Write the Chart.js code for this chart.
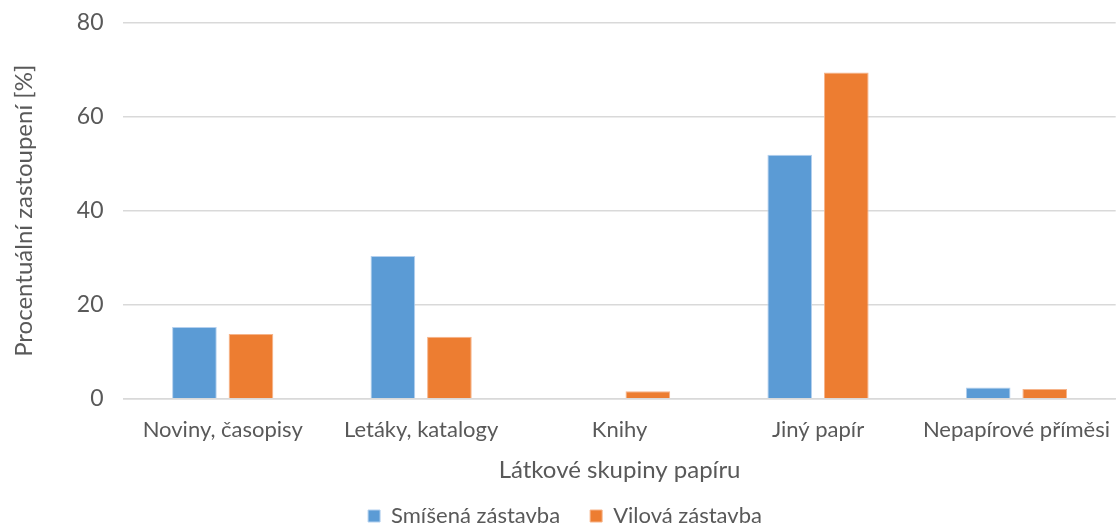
<!DOCTYPE html>
<html>
<head>
<meta charset="utf-8">
<script src="https://cdn.jsdelivr.net/npm/chart.js@4"></script>
<style>
  html, body { margin: 0; padding: 0; background: #fff; overflow: hidden; }
  #chart { display: block; margin-top: -11px; }
</style>
</head>
<body>
<canvas id="chart" width="1120" height="548"></canvas>
<script>
// Data
const categories = ["Noviny, časopisy", "Letáky, katalogy", "Knihy", "Jiný papír", "Nepapírové příměsi"];
const smisena = [15.3, 30.4, 0, 51.9, 2.4];
const vilova = [13.8, 13.2, 1.6, 69.4, 2.1];
const yTicks = [0, 20, 40, 60, 80];

const textColor = "#595959";
const fontFamily = "Lato, 'Open Sans', sans-serif";

new Chart(document.getElementById("chart"), {
  type: "bar",
  data: {
    labels: categories,
    datasets: [
      {
        label: "Smíšená zástavba",
        data: smisena,
        backgroundColor: "#5B9BD5",
        borderColor: "#b4d0ee",
        borderWidth: 1,
      },
      {
        label: "Vilová zástavba",
        data: vilova,
        backgroundColor: "#ED7D31",
        borderColor: "#f6b48a",
        borderWidth: 1,
      },
    ],
  },
  options: {
    responsive: false,
    animation: false,
    layout: { padding: { top: 0, right: 0, left: 10, bottom: 0 } },
    datasets: {
      bar: { categoryPercentage: 0.57, barPercentage: 0.79 },
    },
    plugins: {
      legend: {
        position: "bottom",
        labels: {
          color: textColor,
          font: { family: fontFamily, size: 22 },
          boxWidth: 12,
          boxHeight: 12,
          padding: 30,
        },
      },
      tooltip: { enabled: false },
    },
    scales: {
      x: {
        grid: { display: false },
        border: { color: "#d9d9d9", width: 1.5 },
        ticks: { color: textColor, font: { family: fontFamily, size: 22 }, padding: 10, maxRotation: 0 },
        title: {
          display: true,
          text: "Látkové skupiny papíru",
          color: textColor,
          font: { family: fontFamily, size: 24 },
          padding: { top: 3, bottom: -10 },
        },
      },
      y: {
        min: 0,
        max: 80,
        afterBuildTicks: (axis) => { axis.ticks = yTicks.map((v) => ({ value: v })); },
        grid: { color: "#d9d9d9", lineWidth: 1.5, drawTicks: false },
        border: { display: false },
        ticks: { color: textColor, font: { family: fontFamily, size: 23 }, padding: 20 },
        title: {
          display: true,
          text: "Procentuální zastoupení [%]",
          color: textColor,
          font: { family: fontFamily, size: 24 },
          padding: { top: 0, bottom: 18 },
        },
      },
    },
  },
});
</script>
</body>
</html>
